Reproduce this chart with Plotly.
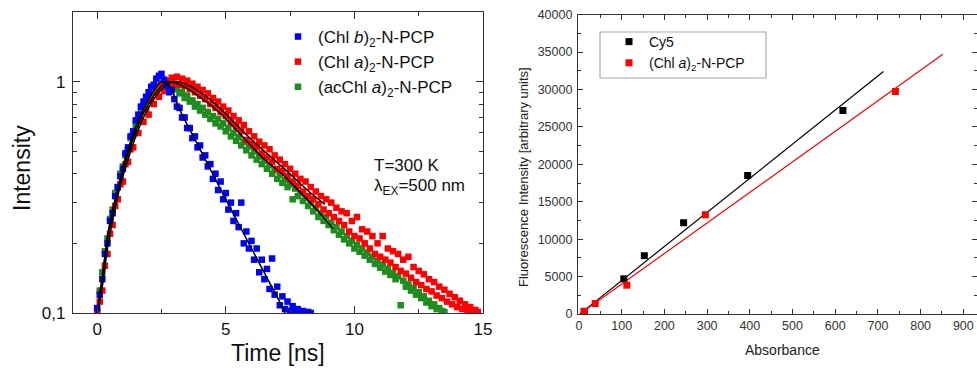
import plotly.graph_objects as go

# ---------------- Left panel: fluorescence decays ----------------
t_blue = [0.0, 0.1, 0.2, 0.3, 0.4, 0.5, 0.6, 0.7, 0.8, 0.9,
          1.0, 1.1, 1.2, 1.3, 1.4, 1.5, 1.6, 1.7, 1.8, 1.9,
          2.0, 2.1, 2.2, 2.3, 2.4, 2.5, 2.6, 2.7, 2.8, 2.9,
          3.0, 3.1, 3.2, 3.3, 3.4, 3.5, 3.6, 3.7, 3.8, 3.9,
          4.0, 4.1, 4.2, 4.3, 4.4, 4.5, 4.6, 4.7, 4.8, 4.9,
          5.0, 5.1, 5.2, 5.3, 5.4, 5.5, 5.6, 5.7, 5.8, 5.9,
          6.0, 6.1, 6.2, 6.3, 6.4, 6.5, 6.6, 6.7, 6.8, 6.9,
          7.0, 7.1, 7.2, 7.3, 7.4, 7.5, 7.6, 7.7, 7.8, 7.9,
          8.0, 8.1, 8.2, 8.3]
I_blue = [0.105, 0.12, 0.14, 0.18, 0.20, 0.25, 0.27, 0.32, 0.35, 0.39,
          0.42, 0.49, 0.52, 0.58, 0.61, 0.68, 0.72, 0.78, 0.82, 0.86,
          0.90, 0.95, 0.97, 1.03, 1.06, 1.08, 1.02, 0.96, 0.90, 0.92,
          0.84, 0.78, 0.77, 0.70, 0.70, 0.63, 0.63, 0.57, 0.58, 0.52,
          0.53, 0.47, 0.48, 0.43, 0.44, 0.38, 0.40, 0.34, 0.37, 0.31,
          0.33, 0.28, 0.30, 0.25, 0.27, 0.235, 0.30, 0.20, 0.225, 0.19,
          0.205, 0.17, 0.19, 0.15, 0.17, 0.14, 0.155, 0.127, 0.172, 0.12,
          0.13, 0.108, 0.118, 0.104, 0.112, 0.102, 0.107, 0.101, 0.104, 0.100,
          0.102, 0.100, 0.101, 0.100]

t_red = [0.0, 0.1, 0.2, 0.3, 0.4, 0.5, 0.6, 0.7, 0.8, 0.9,
         1.0, 1.1, 1.2, 1.3, 1.4, 1.5, 1.6, 1.7, 1.8, 1.9,
         2.0, 2.1, 2.2, 2.3, 2.4, 2.5, 2.6, 2.7, 2.8, 2.9,
         3.0, 3.1, 3.2, 3.3, 3.4, 3.5, 3.6, 3.7, 3.8, 3.9,
         4.0, 4.1, 4.2, 4.3, 4.4, 4.5, 4.6, 4.7, 4.8, 4.9,
         5.0, 5.1, 5.2, 5.3, 5.4, 5.5, 5.6, 5.7, 5.8, 5.9,
         6.0, 6.1, 6.2, 6.3, 6.4, 6.5, 6.6, 6.7, 6.8, 6.9,
         7.0, 7.1, 7.2, 7.3, 7.4, 7.5, 7.6, 7.7, 7.8, 7.9,
         8.0, 8.1, 8.2, 8.3, 8.4, 8.5, 8.6, 8.7, 8.8, 8.9,
         9.0, 9.1, 9.2, 9.3, 9.4, 9.5, 9.6, 9.7, 9.8, 9.9,
         10.0, 10.1, 10.2, 10.3, 10.4, 10.5, 10.6, 10.7, 10.8, 10.9,
         11.0, 11.1, 11.2, 11.3, 11.4, 11.5, 11.6, 11.7, 11.8, 11.9,
         12.0, 12.1, 12.2, 12.3, 12.4, 12.5, 12.6, 12.7, 12.8, 12.9,
         13.0, 13.1, 13.2, 13.3, 13.4, 13.5, 13.6, 13.7, 13.8, 13.9,
         14.0, 14.1, 14.2, 14.3, 14.4, 14.5, 14.6, 14.7, 14.8]
I_red = [0.100, 0.112, 0.125, 0.16, 0.18, 0.22, 0.24, 0.29, 0.31, 0.36,
         0.37, 0.44, 0.45, 0.51, 0.52, 0.60, 0.60, 0.68, 0.67, 0.76,
         0.72, 0.83, 0.80, 0.90, 0.86, 0.96, 0.91, 1.01, 0.97, 1.04,
         0.98, 1.05, 0.97, 1.03, 0.96, 1.01, 0.93, 0.98, 0.90, 0.95,
         0.87, 0.92, 0.84, 0.89, 0.80, 0.85, 0.77, 0.82, 0.74, 0.78,
         0.71, 0.75, 0.67, 0.71, 0.64, 0.68, 0.61, 0.65, 0.56, 0.61,
         0.54, 0.58, 0.52, 0.55, 0.49, 0.53, 0.47, 0.51, 0.45, 0.48,
         0.42, 0.46, 0.41, 0.44, 0.39, 0.42, 0.37, 0.40, 0.355, 0.38,
         0.335, 0.37, 0.32, 0.35, 0.31, 0.335, 0.295, 0.32, 0.28, 0.31,
         0.27, 0.30, 0.26, 0.285, 0.25, 0.275, 0.24, 0.27, 0.225, 0.25,
         0.215, 0.26, 0.21, 0.23, 0.20, 0.225, 0.19, 0.215, 0.18, 0.20,
         0.175, 0.215, 0.17, 0.19, 0.165, 0.185, 0.158, 0.18, 0.152, 0.17,
         0.148, 0.175, 0.142, 0.158, 0.136, 0.152, 0.132, 0.147, 0.127, 0.14,
         0.124, 0.136, 0.119, 0.13, 0.116, 0.126, 0.112, 0.121, 0.109, 0.117,
         0.106, 0.113, 0.104, 0.109, 0.102, 0.106, 0.101, 0.103, 0.101]

t_green = [0.0, 0.1, 0.2, 0.3, 0.4, 0.5, 0.6, 0.7, 0.8, 0.9,
           1.0, 1.1, 1.2, 1.3, 1.4, 1.5, 1.6, 1.7, 1.8, 1.9,
           2.0, 2.1, 2.2, 2.3, 2.4, 2.5, 2.6, 2.7, 2.8, 2.9,
           3.0, 3.1, 3.2, 3.3, 3.4, 3.5, 3.6, 3.7, 3.8, 3.9,
           4.0, 4.1, 4.2, 4.3, 4.4, 4.5, 4.6, 4.7, 4.8, 4.9,
           5.0, 5.1, 5.2, 5.3, 5.4, 5.5, 5.6, 5.7, 5.8, 5.9,
           6.0, 6.1, 6.2, 6.3, 6.4, 6.5, 6.6, 6.7, 6.8, 6.9,
           7.0, 7.1, 7.2, 7.3, 7.4, 7.5, 7.6, 7.7, 7.8, 7.9,
           8.0, 8.1, 8.2, 8.3, 8.4, 8.5, 8.6, 8.7, 8.8, 8.9,
           9.0, 9.1, 9.2, 9.3, 9.4, 9.5, 9.6, 9.7, 9.8, 9.9,
           10.0, 10.1, 10.2, 10.3, 10.4, 10.5, 10.6, 10.7, 10.8, 10.9,
           11.0, 11.1, 11.2, 11.3, 11.4, 11.5, 11.6, 11.7, 11.8, 11.9,
           12.0, 12.1, 12.2, 12.3, 12.4, 12.5, 12.6, 12.7, 12.8, 12.9,
           13.0, 13.1, 13.2, 13.3, 13.4, 13.5]
I_green = [0.102, 0.125, 0.15, 0.185, 0.21, 0.255, 0.28, 0.33, 0.35, 0.40,
           0.43, 0.48, 0.51, 0.57, 0.59, 0.65, 0.68, 0.74, 0.77, 0.82,
           0.84, 0.89, 0.91, 0.95, 0.96, 0.99, 0.98, 1.00, 0.96, 0.97,
           0.93, 0.94, 0.89, 0.90, 0.85, 0.87, 0.82, 0.83, 0.78, 0.80,
           0.75, 0.77, 0.72, 0.74, 0.69, 0.71, 0.66, 0.69, 0.64, 0.66,
           0.61, 0.63, 0.58, 0.60, 0.555, 0.575, 0.53, 0.55, 0.505, 0.525,
           0.48, 0.50, 0.46, 0.475, 0.44, 0.455, 0.42, 0.435, 0.40, 0.415,
           0.38, 0.395, 0.365, 0.375, 0.35, 0.36, 0.31, 0.345, 0.32, 0.33,
           0.305, 0.315, 0.29, 0.30, 0.275, 0.285, 0.26, 0.27, 0.25, 0.26,
           0.24, 0.245, 0.228, 0.235, 0.218, 0.225, 0.208, 0.215, 0.20, 0.205,
           0.19, 0.197, 0.184, 0.19, 0.177, 0.182, 0.17, 0.175, 0.163, 0.168,
           0.157, 0.162, 0.151, 0.155, 0.146, 0.149, 0.14, 0.144, 0.108, 0.138,
           0.13, 0.133, 0.125, 0.128, 0.12, 0.123, 0.116, 0.118, 0.111, 0.113,
           0.107, 0.109, 0.104, 0.105, 0.102, 0.101]

# fitted curves
fit_blue_t = [0.0, 0.2, 0.4, 0.6, 0.85, 1.1, 1.3, 1.5, 1.7, 2.0, 2.25, 2.5,
              2.7, 2.9, 3.2, 4.0, 5.0, 6.0, 7.0, 7.31]
fit_blue_I = [0.100, 0.14, 0.215, 0.28, 0.36, 0.47, 0.55, 0.64, 0.72, 0.84,
              0.93, 1.0, 0.985, 0.92, 0.76, 0.51, 0.31, 0.19, 0.117, 0.100]
fit_red_t = [0.0, 0.2, 0.4, 0.6, 0.8, 1.0, 1.2, 1.4, 1.6, 1.8, 2.0, 2.2, 2.4,
             2.6, 2.8, 3.0, 3.2, 3.6, 4.0, 4.6, 5.2, 5.9, 6.5, 7.2, 7.7, 8.3, 8.85]
fit_red_I = [0.10, 0.13, 0.19, 0.25, 0.32, 0.39, 0.46, 0.54, 0.62, 0.70, 0.77,
             0.84, 0.90, 0.95, 0.985, 1.0, 0.995, 0.96, 0.90, 0.80, 0.69, 0.575,
             0.50, 0.427, 0.38, 0.33, 0.295]
fit_green_t = [0.0, 0.2, 0.4, 0.6, 0.8, 1.0, 1.2, 1.4, 1.6, 1.8, 2.0, 2.2, 2.4,
               2.7, 3.1, 3.6, 4.0, 4.6, 5.2, 5.9, 6.5, 7.2, 7.7, 8.4, 9.17]
fit_green_I = [0.10, 0.145, 0.21, 0.27, 0.34, 0.41, 0.49, 0.57, 0.65, 0.73,
               0.80, 0.87, 0.93, 1.0, 0.98, 0.92, 0.855, 0.76, 0.655, 0.54,
               0.462, 0.398, 0.35, 0.29, 0.232]

# ---------------- Right panel: brightness comparison ----------------
cy5_abs = [12, 105, 153, 245, 395, 618]
cy5_int = [350, 4700, 7800, 12200, 18500, 27200]
chl_abs = [13, 38, 112, 296, 741]
chl_int = [350, 1400, 3850, 13250, 29750]
cy5_fit_abs = [14, 713]
cy5_fit_int = [550, 32400]
chl_fit_abs = [2, 852]
chl_fit_int = [0, 34700]

BLUE = "#0000ff"
RED = "#ff0000"
GREEN = "#1f8c1f"
FONT = "Liberation Sans, Arial, sans-serif"

W, H = 977, 369


def px(x):
    return x / W


def py(y):
    return 1 - y / H


fig = go.Figure()

MS = 6.5
# left data (drawn green, red, blue; legend ordered blue, red, green)
fig.add_trace(go.Scatter(x=t_green, y=I_green, mode="markers",
                         marker=dict(symbol="square", size=MS, color=GREEN),
                         name="(acChl <i>a</i>)<sub>2</sub>-N-PCP", legendrank=3, legendgroup="g",
                         xaxis="x", yaxis="y", legend="legend"))
fig.add_trace(go.Scatter(x=t_red, y=I_red, mode="markers",
                         marker=dict(symbol="square", size=MS, color=RED),
                         name="(Chl <i>a</i>)<sub>2</sub>-N-PCP", legendrank=2, legendgroup="r",
                         xaxis="x", yaxis="y", legend="legend"))
fig.add_trace(go.Scatter(x=t_blue, y=I_blue, mode="markers",
                         marker=dict(symbol="square", size=MS, color=BLUE),
                         name="(Chl <i>b</i>)<sub>2</sub>-N-PCP", legendrank=1, legendgroup="b",
                         xaxis="x", yaxis="y", legend="legend"))
for ft, fi in [(fit_blue_t, fit_blue_I), (fit_red_t, fit_red_I), (fit_green_t, fit_green_I)]:
    fig.add_trace(go.Scatter(x=ft, y=fi, mode="lines", line=dict(color="black", width=1.5, shape="spline"),
                             showlegend=False, xaxis="x", yaxis="y", hoverinfo="skip"))

# right data
fig.add_trace(go.Scatter(x=cy5_fit_abs, y=cy5_fit_int, mode="lines", line=dict(color="black", width=1.2),
                         showlegend=False, xaxis="x2", yaxis="y2"))
fig.add_trace(go.Scatter(x=chl_fit_abs, y=chl_fit_int, mode="lines", line=dict(color=RED, width=1.2),
                         showlegend=False, xaxis="x2", yaxis="y2"))
fig.add_trace(go.Scatter(x=cy5_abs, y=cy5_int, mode="markers",
                         marker=dict(symbol="square", size=7, color="black"),
                         name="Cy5", xaxis="x2", yaxis="y2", legend="legend2"))
fig.add_trace(go.Scatter(x=chl_abs, y=chl_int, mode="markers",
                         marker=dict(symbol="square", size=7, color=RED),
                         name="(Chl <i>a</i>)<sub>2</sub>-N-PCP", xaxis="x2", yaxis="y2", legend="legend2"))

axis_common = dict(showline=True, linecolor="#333", linewidth=1.2, mirror="ticks",
                   showgrid=False, zeroline=False, ticks="inside", tickcolor="#333",
                   automargin=False)

fig.update_layout(
    width=W, height=H, margin=dict(l=0, r=0, t=0, b=0, autoexpand=False),
    paper_bgcolor="white", plot_bgcolor="white",
    font=dict(family=FONT, color="#111"),
    xaxis=dict(**axis_common, domain=[px(73), px(483)], range=[-0.94, 15.0],
               tickvals=[0, 5, 10, 15], ticklen=7, tickwidth=1.2,
               minor=dict(ticks="inside", tickvals=[2.5, 7.5, 12.5], ticklen=4, tickcolor="#333"),
               tickfont=dict(size=17, color="#111"), anchor="y"),
    yaxis=dict(**axis_common, domain=[py(313), py(12)], type="log", range=[-1, 0.301],
               tickvals=[0.1, 1], ticktext=["0,1", "1"], ticklen=7, tickwidth=1.2,
               minor=dict(ticks="inside", tickvals=[0.2, 0.3, 0.4, 0.5, 0.6, 0.7, 0.8, 0.9, 2],
                          ticklen=4, tickcolor="#333"),
               tickfont=dict(size=17, color="#111"), anchor="x", ticklabelstandoff=3),
    xaxis2=dict(**axis_common, domain=[px(578), 1.0], range=[-2.3, 932],
                dtick=100, ticklen=5, tickwidth=1,
                minor=dict(ticks="inside", dtick=50, ticklen=3, tickcolor="#333"),
                tickfont=dict(size=12.5, color="#333"), anchor="y2"),
    yaxis2=dict(**axis_common, domain=[py(314), py(14.7)], range=[0, 40000],
                dtick=5000, tickformat="d", ticklen=5, tickwidth=1,
                minor=dict(ticks="inside", dtick=2500, ticklen=3, tickcolor="#333"),
                tickfont=dict(size=12.5, color="#333"), anchor="x2", ticklabelstandoff=2),
    legend=dict(x=px(278), y=py(19), xanchor="left", yanchor="top",
                bgcolor="rgba(0,0,0,0)", borderwidth=0, traceorder="grouped",
                font=dict(size=17, color="#111"), tracegroupgap=0, itemsizing="trace"),
    legend2=dict(x=px(609), y=py(26), xanchor="left", yanchor="top",
                 bgcolor="rgba(0,0,0,0)", borderwidth=0,
                 font=dict(size=14, color="#111"), itemsizing="trace"),
    shapes=[dict(type="rect", xref="paper", yref="paper", x0=px(600), x1=px(766),
                 y0=py(78), y1=py(32), line=dict(color="#aaa", width=1.2), layer="below")],
    annotations=[
        dict(text="Intensity", x=px(22), y=py(168), xref="paper", yref="paper", showarrow=False,
             textangle=-90, font=dict(size=23, color="#111"), xanchor="center", yanchor="middle"),
        dict(text="Time [ns]", x=px(278), y=py(353), xref="paper", yref="paper", showarrow=False,
             font=dict(size=23, color="#111"), xanchor="center", yanchor="middle"),
        dict(text="T=300 K", x=px(372), y=py(165), xref="paper", yref="paper", showarrow=False,
             font=dict(size=17, color="#111"), xanchor="left", yanchor="middle"),
        dict(text="λ<sub>EX</sub>=500 nm", x=px(372), y=py(187), xref="paper", yref="paper",
             showarrow=False, font=dict(size=17, color="#111"), xanchor="left", yanchor="middle"),
        dict(text="Fluorescence Intensity [arbitrary units]", x=px(523), y=py(177), xref="paper",
             yref="paper", showarrow=False, textangle=-90, font=dict(size=13, color="#222"),
             xanchor="center", yanchor="middle"),
        dict(text="Absorbance", x=px(782), y=py(350), xref="paper", yref="paper", showarrow=False,
             font=dict(size=14, color="#222"), xanchor="center", yanchor="middle"),
    ],
)

fig.write_html("out.html")
